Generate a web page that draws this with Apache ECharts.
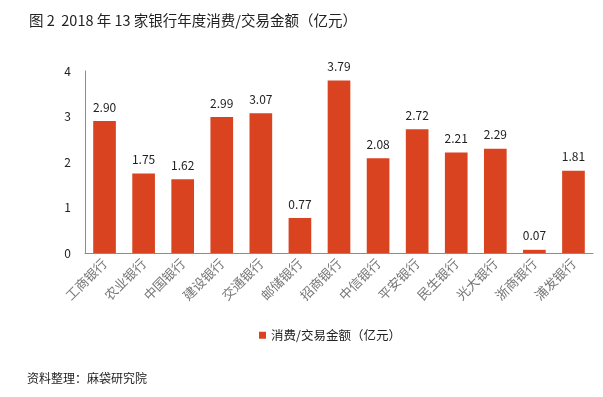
<!DOCTYPE html>
<html>
<head>
<meta charset="utf-8">
<script src="https://cdn.jsdelivr.net/npm/echarts@6/dist/echarts.min.js"></script>
<style>
  html, body { margin: 0; padding: 0; background: #fff; }
  #chart { width: 603px; height: 397px; }
</style>
</head>
<body>
<div id="chart"></div>
<script>
const banks = ['工商银行', '农业银行', '中国银行', '建设银行', '交通银行', '邮储银行', '招商银行',
  '中信银行', '平安银行', '民生银行', '光大银行', '浙商银行', '浦发银行'];
const amounts = [2.90, 1.75, 1.62, 2.99, 3.07, 0.77, 3.79, 2.08, 2.72, 2.21, 2.29, 0.07, 1.81];
const seriesName = '消费/交易金额（亿元）';
const yTicks = [0, 1, 2, 3, 4];

const chart = echarts.init(document.getElementById('chart'));
const font = '"Noto Sans CJK SC", "Open Sans", sans-serif';

chart.setOption({
  backgroundColor: '#fff',
  animation: false,
  textStyle: { fontFamily: font },
  title: [
    {
      text: '图 2  2018 年 13 家银行年度消费/交易金额（亿元）',
      left: 24, top: 8,
      textStyle: { fontSize: 14.5, fontWeight: 'normal', color: '#222', fontFamily: font }
    },
    {
      text: '资料整理：麻袋研究院',
      left: 22, top: 367,
      textStyle: { fontSize: 12, fontWeight: 'normal', color: '#222', fontFamily: font }
    }
  ],
  legend: {
    data: [seriesName],
    left: 254, top: 324,
    icon: 'rect',
    itemWidth: 7, itemHeight: 7, itemGap: 4,
    textStyle: { fontSize: 12.5, color: '#222', fontFamily: font }
  },
  grid: { left: 85, right: 10, top: 71, bottom: 144 },
  xAxis: {
    type: 'category',
    data: banks,
    axisLine: { lineStyle: { color: '#8c8c8c' } },
    axisTick: { show: false },
    axisLabel: { rotate: 45, color: '#777', fontSize: 13, margin: 8, interval: 0, fontFamily: font }
  },
  yAxis: {
    type: 'value',
    min: yTicks[0], max: yTicks[yTicks.length - 1], interval: 1,
    axisLine: { show: true, lineStyle: { color: '#8c8c8c' } },
    axisTick: { show: false },
    splitLine: { show: false },
    axisLabel: { color: '#222', fontSize: 12, margin: 14, fontFamily: font }
  },
  series: [{
    name: seriesName,
    type: 'bar',
    data: amounts,
    barWidth: '58%',
    itemStyle: { color: '#DA4320' },
    label: {
      show: true, position: 'top', distance: 8,
      color: '#222', fontSize: 12, fontFamily: font,
      formatter: p => p.value.toFixed(2)
    }
  }]
});
</script>
</body>
</html>
